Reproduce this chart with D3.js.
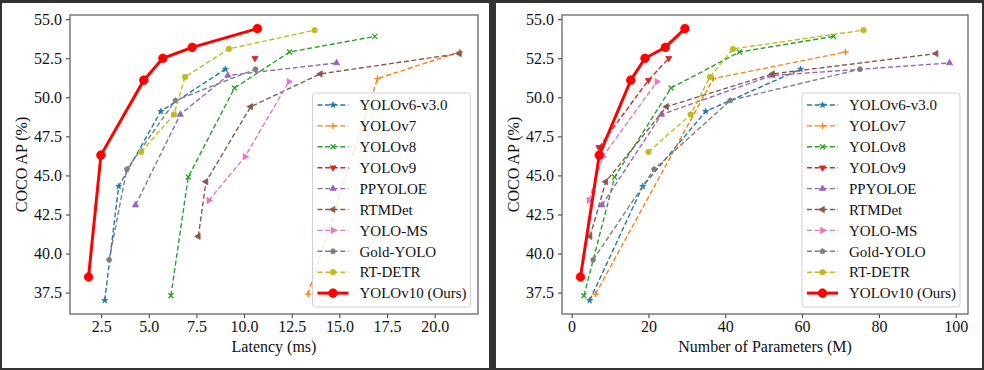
<!DOCTYPE html>
<html>
<head>
<meta charset="utf-8">
<script src="https://cdn.jsdelivr.net/npm/d3@7"></script>
<style>
  body { margin: 0; background: #fff; }
</style>
</head>
<body>
<svg id="fig" width="984" height="370"></svg>
<script>
// ---- data ----
const models = ["YOLOv6-v3.0", "YOLOv7", "YOLOv8", "YOLOv9", "PPYOLOE", "RTMDet",
                "YOLO-MS", "Gold-YOLO", "RT-DETR", "YOLOv10 (Ours)"];

const yolov6Lat = [2.69, 3.42, 5.63, 9.02];
const yolov6Params = [4.7, 18.5, 34.9, 59.6];
const yolov6AP = [37.0, 44.3, 49.1, 51.8];

const yolov7Lat = [13.35, 17.0, 21.3];
const yolov7Params = [6.2, 36.9, 71.3];
const yolov7AP = [37.4, 51.2, 52.9];

const yolov8Lat = [6.16, 7.07, 9.50, 12.39, 16.86];
const yolov8Params = [3.2, 11.2, 25.9, 43.7, 68.2];
const yolov8AP = [37.3, 44.9, 50.6, 52.9, 53.9];

// YOLOv9: only one latency point, three parameter points
const yolov9Lat = [10.57];
const yolov9LatAP = [52.5];
const yolov9Params = [7.1, 20.0, 25.3];
const yolov9ParamsAP = [46.8, 51.1, 52.5];

const ppyoloeLat = [4.3, 6.65, 9.15, 14.85];
const ppyoloeParams = [7.9, 23.4, 52.2, 98.4];
const ppyoloeAP = [43.1, 48.9, 51.4, 52.2];

const rtmdetLat = [7.6, 8.0, 10.35, 14.0, 21.3];
const rtmdetParams = [4.8, 8.9, 24.7, 52.3, 94.9];
const rtmdetAP = [41.1, 44.6, 49.4, 51.5, 52.8];

const yoloMsLat = [8.15, 10.05, 12.35];
const yoloMsParams = [4.5, 8.1, 22.2];
const yoloMsAP = [43.4, 46.2, 51.0];

const goldYoloLat = [2.92, 3.85, 6.4, 10.6];
const goldYoloParams = [5.6, 21.5, 41.3, 75.1];
const goldYoloAP = [39.6, 45.4, 49.8, 51.8];

const rtdetrLat = [4.6, 6.32, 6.9, 9.2, 13.7];
const rtdetrParams = [20, 31, 36, 42, 76];
const rtdetrAP = [46.5, 48.9, 51.3, 53.1, 54.3];

const yolov10Lat = [1.84, 2.49, 4.74, 5.74, 7.28, 10.70];
const yolov10Params = [2.3, 7.2, 15.4, 19.1, 24.4, 29.5];
const yolov10AP = [38.5, 46.3, 51.1, 52.5, 53.2, 54.4];

const latTicks = [2.5, 5.0, 7.5, 10.0, 12.5, 15.0, 17.5, 20.0];
const paramTicks = [0, 20, 40, 60, 80, 100];
const apTicks = [37.5, 40.0, 42.5, 45.0, 47.5, 50.0, 52.5, 55.0];

const colors = ["#1f77b4", "#ff7f0e", "#2ca02c", "#d62728", "#9467bd", "#8c564b",
                "#e377c2", "#7f7f7f", "#bcbd22", "#ff0000"];
const markers = ["star", "plus", "x", "tdown", "tup", "tleft", "tright", "pent", "circle", "big"];

const FONT = '"Liberation Serif", "Times New Roman", serif';

const zip = (xs, ys) => xs.map((v, i) => [v, ys[i]]);

const latSeries = [
  zip(yolov6Lat, yolov6AP), zip(yolov7Lat, yolov7AP), zip(yolov8Lat, yolov8AP),
  zip(yolov9Lat, yolov9LatAP), zip(ppyoloeLat, ppyoloeAP), zip(rtmdetLat, rtmdetAP),
  zip(yoloMsLat, yoloMsAP), zip(goldYoloLat, goldYoloAP), zip(rtdetrLat, rtdetrAP),
  zip(yolov10Lat, yolov10AP)
];
const paramSeries = [
  zip(yolov6Params, yolov6AP), zip(yolov7Params, yolov7AP), zip(yolov8Params, yolov8AP),
  zip(yolov9Params, yolov9ParamsAP), zip(ppyoloeParams, ppyoloeAP), zip(rtmdetParams, rtmdetAP),
  zip(yoloMsParams, yoloMsAP), zip(goldYoloParams, goldYoloAP), zip(rtdetrParams, rtdetrAP),
  zip(yolov10Params, yolov10AP)
];

// ---- marker shapes ----
function poly(n, r, rot) {
  var pts = d3.range(n).map(function(i) {
    var a = rot + i * 2 * Math.PI / n;
    return [r * Math.sin(a), -r * Math.cos(a)];
  });
  return "M" + pts.map(p => p[0].toFixed(2) + "," + p[1].toFixed(2)).join("L") + "Z";
}
function markerPath(kind) {
  switch (kind) {
    case "star": return d3.symbol(d3.symbolStar, 11)();
    case "plus": return "M-3.2,0H3.2M0,-3.2V3.2";
    case "x": return "M-2.5,-2.5L2.5,2.5M-2.5,2.5L2.5,-2.5";
    case "tup": return poly(3, 3.6, 0);
    case "tdown": return poly(3, 3.6, Math.PI);
    case "tleft": return poly(3, 3.6, -Math.PI / 2);
    case "tright": return poly(3, 3.6, Math.PI / 2);
    case "pent": return poly(5, 2.8, 0);
    case "circle": return d3.symbol(d3.symbolCircle, 24)();
    case "big": return d3.symbol(d3.symbolCircle, 58)();
  }
}
function drawMarker(g, kind, color) {
  var open = (kind === "plus" || kind === "x");
  g.append("path")
    .attr("d", markerPath(kind))
    .attr("fill", open ? "none" : color)
    .attr("stroke", color)
    .attr("stroke-width", open ? 1.3 : 0.8);
}

// ---- figure frame ----
var svg = d3.select("#fig");
svg.append("rect").attr("width", 984).attr("height", 370).attr("fill", "#333");
svg.append("rect").attr("x", 2).attr("y", 3).attr("width", 487).attr("height", 365).attr("fill", "#fff");
svg.append("rect").attr("x", 496).attr("y", 3).attr("width", 486).attr("height", 365).attr("fill", "#fff");

function padded(series, acc) {
  var ext = d3.extent(series.flat(), acc);
  var p = (ext[1] - ext[0]) * 0.05;
  return [ext[0] - p, ext[1] + p];
}

function drawPanel(series, box, xTicks, xFmt, xLabel, legendX) {
  var x = d3.scaleLinear().domain(padded(series, d => d[0])).range([box.left, box.right]);
  var y = d3.scaleLinear().domain(padded(series, d => d[1])).range([box.bottom, box.top]);

  var g = svg.append("g");

  // axes
  var xAxis = g.append("g")
    .attr("transform", "translate(0," + box.bottom + ")")
    .call(d3.axisBottom(x).tickValues(xTicks).tickFormat(xFmt).tickSize(4).tickPadding(3));
  var yAxis = g.append("g")
    .attr("transform", "translate(" + box.left + ",0)")
    .call(d3.axisLeft(y).tickValues(apTicks).tickFormat(d3.format(".1f")).tickSize(4).tickPadding(4));
  [xAxis, yAxis].forEach(function(a) {
    a.attr("font-family", FONT);
    a.select(".domain").remove();
    a.selectAll(".tick line").attr("stroke", "#333").attr("stroke-width", 1);
    a.selectAll(".tick text")
      .style("font-family", FONT).style("font-size", "16px").attr("fill", "#111");
  });

  // series lines + markers
  series.forEach(function(pts, i) {
    var ours = i === models.length - 1;
    g.append("path")
      .datum(pts)
      .attr("fill", "none")
      .attr("stroke", colors[i])
      .attr("stroke-width", ours ? 3 : 1.4)
      .attr("stroke-dasharray", ours ? null : "5,2.6")
      .attr("d", d3.line().x(d => x(d[0])).y(d => y(d[1])));
    pts.forEach(function(d) {
      var m = g.append("g").attr("transform", "translate(" + x(d[0]) + "," + y(d[1]) + ")");
      drawMarker(m, markers[i], colors[i]);
    });
  });

  // spines
  g.append("rect")
    .attr("x", box.left).attr("y", box.top)
    .attr("width", box.right - box.left).attr("height", box.bottom - box.top)
    .attr("fill", "none").attr("stroke", "#666").attr("stroke-width", 1.3);

  // axis labels
  g.append("text")
    .attr("x", (box.left + box.right) / 2).attr("y", box.bottom + 38)
    .attr("text-anchor", "middle")
    .style("font-family", FONT).style("font-size", "16px").attr("fill", "#111")
    .text(xLabel);
  g.append("text")
    .attr("transform", "translate(" + (box.left - 43) + "," + ((box.top + box.bottom) / 2) + ") rotate(-90)")
    .attr("text-anchor", "middle")
    .style("font-family", FONT).style("font-size", "16px").attr("fill", "#111")
    .text("COCO AP (%)");

  // legend
  var lg = g.append("g").attr("transform", "translate(" + legendX + ",93)");
  lg.append("rect")
    .attr("width", 158).attr("height", 214).attr("rx", 3)
    .attr("fill", "#fff").attr("fill-opacity", 0.8)
    .attr("stroke", "#d0d0d0").attr("stroke-width", 1);
  models.forEach(function(name, i) {
    var ours = i === models.length - 1;
    var yy = 12 + i * 20.9;
    lg.append("line")
      .attr("x1", 5).attr("x2", 36).attr("y1", yy).attr("y2", yy)
      .attr("stroke", colors[i])
      .attr("stroke-width", ours ? 3 : 1.4)
      .attr("stroke-dasharray", ours ? null : "5,2.6");
    var m = lg.append("g").attr("transform", "translate(20.5," + yy + ")");
    drawMarker(m, markers[i], colors[i]);
    lg.append("text")
      .attr("x", 47).attr("y", yy).attr("dy", "0.35em")
      .style("font-family", FONT).style("font-size", "15px").attr("fill", "#111")
      .text(name);
  });
}

drawPanel(latSeries, { left: 70, right: 478, top: 15, bottom: 314 },
  latTicks, d3.format(".1f"), "Latency (ms)", 312.5);
drawPanel(paramSeries, { left: 562, right: 968, top: 15, bottom: 314 },
  paramTicks, d3.format("d"), "Number of Parameters (M)", 802);
</script>
</body>
</html>
